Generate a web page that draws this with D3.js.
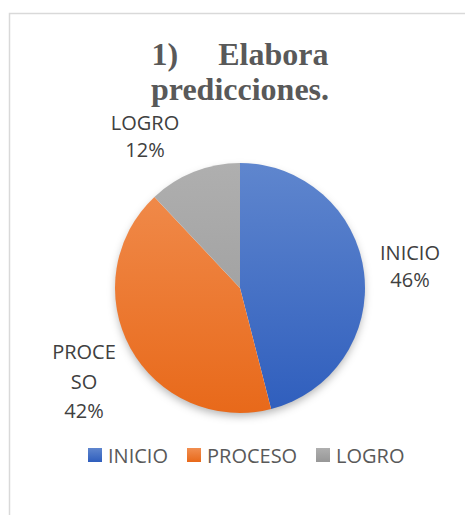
<!DOCTYPE html>
<html><head><meta charset="utf-8">
<script src="https://cdn.jsdelivr.net/npm/d3@7"></script>
<style>html,body{margin:0;padding:0;background:#fff;}svg{display:block;}</style>
</head><body>
<svg id="c" width="465" height="515"></svg>
<script>
const categories = ["INICIO", "PROCESO", "LOGRO"];
const values = [46, 42, 12];
const labelLines = [["INICIO", "46%"], ["PROCE", "SO", "42%"], ["LOGRO", "12%"]];
const titleLines = ["1)     Elabora", "predicciones."];

const W = 465, H = 515;
const cx = 240, cy = 288, R = 125;
const topColors = ["#5F86CE", "#F18E50", "#AFAFAF"];
const botColors = ["#2F5EBD", "#E8691A", "#979797"];
// label layout (first-line baseline anchor, line height)
const labelLayout = [
  {x: 410, y: 260, lh: 27},
  {x: 84, y: 359, lh: 29.5},
  {x: 145, y: 130, lh: 27}
];

const svg = d3.select("#c");
const defs = svg.append("defs");
categories.forEach((c, i) => {
  const g = defs.append("linearGradient").attr("id", "gl" + i)
    .attr("gradientUnits", "userSpaceOnUse")
    .attr("x1", 0).attr("y1", -R).attr("x2", 0).attr("y2", R);
  g.append("stop").attr("offset", "0%").attr("stop-color", topColors[i]);
  g.append("stop").attr("offset", "100%").attr("stop-color", botColors[i]);
  const lg = defs.append("linearGradient").attr("id", "lg" + i)
    .attr("x1", 0).attr("y1", 0).attr("x2", 0).attr("y2", 1);
  lg.append("stop").attr("offset", "0%").attr("stop-color", topColors[i]);
  lg.append("stop").attr("offset", "100%").attr("stop-color", botColors[i]);
});
const f = defs.append("filter").attr("id", "sh").attr("x", "-20%").attr("y", "-20%").attr("width", "140%").attr("height", "140%");
f.append("feDropShadow").attr("dx", 0).attr("dy", 4).attr("stdDeviation", 4).attr("flood-color", "#000").attr("flood-opacity", 0.3);

// frame
svg.append("rect").attr("x", 9.5).attr("y", 13.5).attr("width", W + 20).attr("height", H + 20)
  .attr("fill", "#fff").attr("stroke", "#D9D9D9").attr("stroke-width", 1.5);

// title
const title = svg.append("text").attr("text-anchor", "middle")
  .attr("font-family", "'Liberation Serif', 'Times New Roman', serif")
  .attr("font-weight", "bold").attr("font-size", 32).attr("fill", "#595959")
  .style("white-space", "pre");
titleLines.forEach((t, i) => {
  title.append("tspan").attr("x", cx).attr("y", 65 + i * 35).text(t);
});

const pie = d3.pie().sort(null).value(d => d.v);
const arcs = pie(categories.map((c, i) => ({c, v: values[i], i})));
const arc = d3.arc().innerRadius(0).outerRadius(R);

const pg = svg.append("g").attr("transform", `translate(${cx},${cy})`);
pg.append("circle").attr("r", R - 1).attr("fill", "#fff").attr("filter", "url(#sh)");
pg.selectAll("path.slice").data(arcs).join("path")
  .attr("class", "slice")
  .attr("d", arc)
  .attr("fill", d => `url(#gl${d.data.i})`);

// labels
const font = "'Open Sans', 'Noto Sans', sans-serif";
arcs.forEach(a => {
  const L = labelLayout[a.data.i];
  const t = svg.append("text").attr("text-anchor", "middle")
    .attr("font-family", font).attr("font-size", 20).attr("fill", "#404040");
  labelLines[a.data.i].forEach((s, j) => {
    t.append("tspan").attr("x", L.x).attr("y", L.y + j * L.lh).text(s);
  });
});

// legend
const legendX = [88, 187, 316];
const lg = svg.append("g");
categories.forEach((c, i) => {
  lg.append("rect").attr("x", legendX[i]).attr("y", 448).attr("width", 14).attr("height", 14)
    .attr("fill", `url(#lg${i})`);
  lg.append("text").attr("x", legendX[i] + 20).attr("y", 462.5)
    .attr("font-family", font).attr("font-size", 20).attr("fill", "#595959").text(c);
});
</script>
</body></html>
